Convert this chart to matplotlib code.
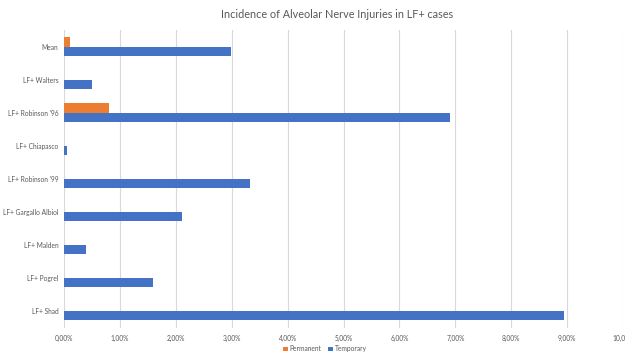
import matplotlib
matplotlib.use("Agg")
import matplotlib.pyplot as plt
import numpy as np

# categories bottom to top
studies = ["LF+ Shad", "LF+ Pogrel", "LF+ Malden", "LF+ Gargallo Albiol",
           "LF+ Robinson '99", "LF+ Chiapasco", "LF+ Robinson '96",
           "LF+ Walters", "Mean"]
temporary = [8.95, 1.60, 0.40, 2.11, 3.33, 0.05, 6.90, 0.50, 2.98]
permanent = [0.0, 0.0, 0.0, 0.0, 0.0, 0.0, 0.80, 0.0, 0.10]
x_ticks = [0, 1, 2, 3, 4, 5, 6, 7, 8, 9, 10]

plt.rcParams['font.family'] = ['Lato', 'DejaVu Sans']

fig = plt.figure(figsize=(6.25, 3.53), dpi=100)
ax = fig.add_axes([0.1024, 0.072, 0.8946, 0.843])

y = np.arange(len(studies))
h = 0.28
ax.barh(y + h / 2, permanent, height=h, color="#ED7D31", label="Permanent", zorder=3)
ax.barh(y - h / 2, temporary, height=h, color="#4472C4", label="Temporary", zorder=3)

ax.set_xlim(0, 10)
ax.set_ylim(-0.5, len(studies) - 0.5)
ax.set_yticks(y)
ax.set_yticklabels(studies, fontsize=4.8, color="#595959")
ax.set_xticks(x_ticks)
ax.set_xticklabels([f"{v:.2f}%".replace(".", ",") for v in x_ticks], fontsize=4.8, color="#595959")
ax.tick_params(length=0, pad=5)
ax.tick_params(axis='y', pad=4)
ax.grid(axis='x', color="#D9D9D9", linewidth=0.8, zorder=0)
for s in ax.spines.values():
    s.set_visible(False)

fig.suptitle("Incidence of Alveolar Nerve Injuries in LF+ cases", x=0.54, y=0.975,
             fontsize=7.8, color="#595959")

fig.legend(loc="lower center", bbox_to_anchor=(0.52, -0.015), ncol=2, fontsize=4.8,
           frameon=False, handlelength=0.7, handleheight=0.7, columnspacing=1.0,
           handletextpad=0.3, labelcolor="#595959")

fig.savefig("out.png", dpi=100)
